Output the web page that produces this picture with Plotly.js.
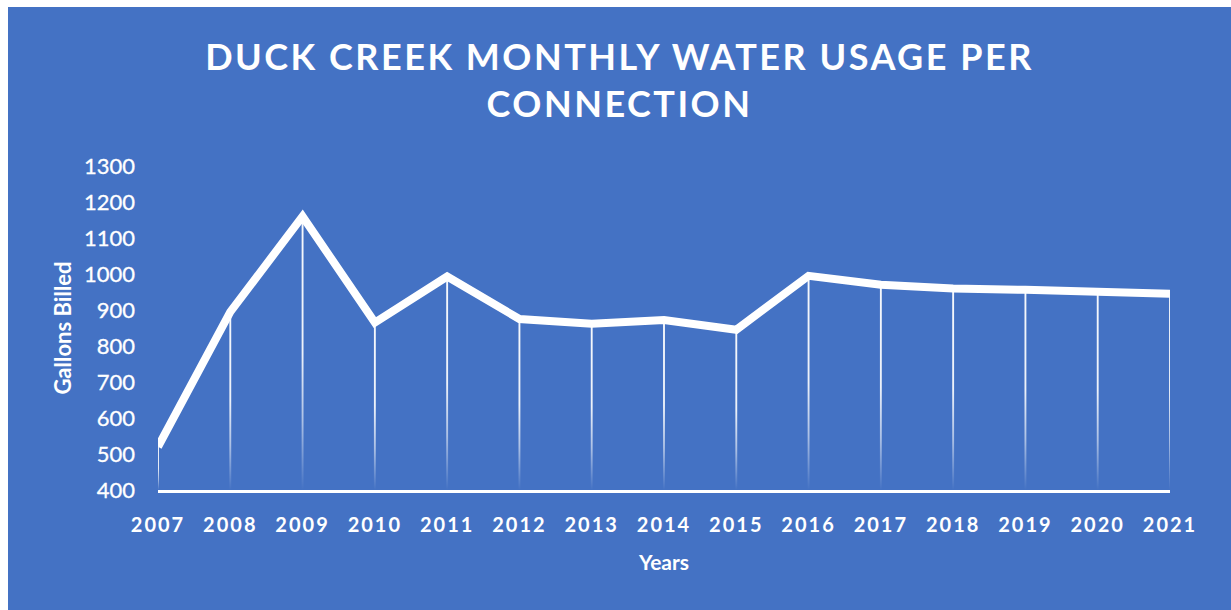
<!DOCTYPE html>
<html><head><meta charset="utf-8">
<script src="https://cdn.plot.ly/plotly-3.0.1.min.js"></script>
<style>
html,body{margin:0;padding:0;background:#ffffff;width:1231px;height:610px;overflow:hidden}
#chart{position:absolute;left:8px;top:7px;width:1223px;height:603px}
#chart .gtitle{letter-spacing:2.5px}
#chart .xtick text{letter-spacing:2px}
#chart .ytick text{stroke:#ffffff;stroke-width:0.3px}
</style></head><body><div id="chart"></div>
<script>
const years = [2007,2008,2009,2010,2011,2012,2013,2014,2015,2016,2017,2018,2019,2020,2021];
const gallonsBilled = [520,895,1160,865,993,875,862,872,845,995,970,960,956,953,945];
const yTickValues = [400,500,600,700,800,900,1000,1100,1200,1300];
const yLabels = yTickValues.map(String);
const xLabels = years.map(String);

const BLUE = '#4472C4';
const WHITE = '#ffffff';
const FONT = 'Lato, "Open Sans", sans-serif';
const yMin = yTickValues[0];
const yMax = yTickValues[yTickValues.length-1];

const traces = [];
// drop lines: thin filled strips from each point down to the axis, fading at the bottom
const halfW = 0.013;
years.forEach((yr, i) => {
  traces.push({
    type: 'scatter', mode: 'lines',
    x: [yr-halfW, yr+halfW, yr+halfW, yr-halfW, yr-halfW],
    y: [yMin, yMin, gallonsBilled[i], gallonsBilled[i], yMin],
    fill: 'toself',
    line: {width: 0, color: 'rgba(255,255,255,0)'},
    fillgradient: {
      type: 'vertical',
      colorscale: [[0,'rgba(255,255,255,0)'],[0.25,'rgba(255,255,255,0.55)'],[0.5,'rgba(255,255,255,0.9)'],[1,'rgba(255,255,255,0.95)']]
    },
    hoverinfo: 'skip', showlegend: false
  });
});
traces.push({
  type: 'scatter', mode: 'lines',
  x: years, y: gallonsBilled,
  line: {color: WHITE, width: 8},
  hoverinfo: 'skip', showlegend: false
});

const layout = {
  width: 1223, height: 603,
  paper_bgcolor: BLUE, plot_bgcolor: BLUE,
  margin: {l: 150, r: 61, t: 159, b: 120},
  showlegend: false,
  hovermode: false,
  title: {
    text: 'DUCK CREEK MONTHLY WATER USAGE PER<br>CONNECTION',
    font: {family: FONT, size: 36, color: WHITE, weight: 'bold'},
    x: 0.5, xanchor: 'center', xref: 'container',
    y: 1 - 63/603, yanchor: 'top', yref: 'container'
  },
  xaxis: {
    range: [years[0], years[years.length-1]],
    tickmode: 'array', tickvals: years, ticktext: xLabels,
    showgrid: false, zeroline: false,
    showline: true, linecolor: WHITE, linewidth: 3,
    ticks: '', ticklabelstandoff: 15,
    tickfont: {family: FONT, size: 20, color: WHITE, weight: 'bold'},
    title: {text: 'Years', font: {family: FONT, size: 21, color: WHITE, weight: 'bold'}, standoff: 21}
  },
  yaxis: {
    range: [yMin, yMax],
    tickmode: 'array', tickvals: yTickValues, ticktext: yLabels,
    showgrid: false, zeroline: false, showline: false,
    ticks: '', ticklabelstandoff: 22,
    tickfont: {family: FONT, size: 22, color: WHITE},
    title: {text: 'Gallons Billed', font: {family: FONT, size: 22, color: WHITE, weight: 'bold'}, standoff: 6}
  }
};

Plotly.newPlot('chart', traces, layout, {displayModeBar: false, staticPlot: true});
</script></body></html>
